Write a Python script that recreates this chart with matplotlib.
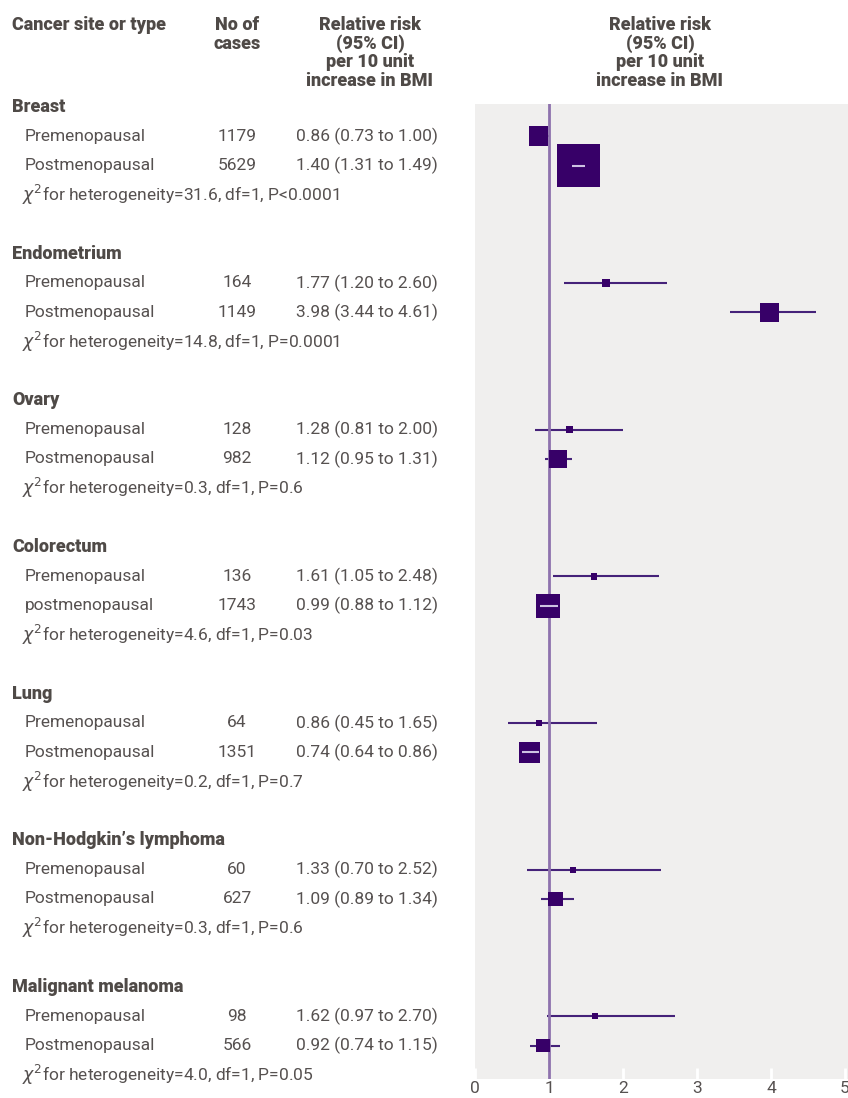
import matplotlib
matplotlib.use("Agg")
import matplotlib.pyplot as plt
from matplotlib.patches import Rectangle
from matplotlib.transforms import blended_transform_factory

# Data
sites = ["Breast", "Endometrium", "Ovary", "Colorectum", "Lung",
         "Non-Hodgkin\u2019s lymphoma", "Malignant melanoma"]
subgroups = [["Premenopausal", "Postmenopausal"],
             ["Premenopausal", "Postmenopausal"],
             ["Premenopausal", "Postmenopausal"],
             ["Premenopausal", "postmenopausal"],
             ["Premenopausal", "Postmenopausal"],
             ["Premenopausal", "Postmenopausal"],
             ["Premenopausal", "Postmenopausal"]]
cases = [[1179, 5629], [164, 1149], [128, 982], [136, 1743],
         [64, 1351], [60, 627], [98, 566]]
rr = [[0.86, 1.40], [1.77, 3.98], [1.28, 1.12], [1.61, 0.99],
      [0.86, 0.74], [1.33, 1.09], [1.62, 0.92]]
ci_lo = [[0.73, 1.31], [1.20, 3.44], [0.81, 0.95], [1.05, 0.88],
         [0.45, 0.64], [0.70, 0.89], [0.97, 0.74]]
ci_hi = [[1.00, 1.49], [2.60, 4.61], [2.00, 1.31], [2.48, 1.12],
         [1.65, 0.86], [2.52, 1.34], [2.70, 1.15]]
chi2 = ["31.6", "14.8", "0.3", "4.6", "0.2", "0.3", "4.0"]
pvals = ["P<0.0001", "P=0.0001", "P=0.6", "P=0.03", "P=0.7", "P=0.6", "P=0.05"]
xticks = [0, 1, 2, 3, 4, 5]

# Style
W, H = 848, 1098
text_col = "#565150"
head_col = "#4f4a47"
panel_col = "#f0efee"
square_col = "#370068"
ci_col = "#452279"
inner_col = "#cdc2e2"
ref_col = "#8e72ad"
plt.rcParams["font.family"] = ["Roboto", "DejaVu Sans"]
plt.rcParams["mathtext.fontset"] = "dejavusans"

fig = plt.figure(figsize=(W / 100, H / 100), dpi=100)
ax_left, ax_right, ax_top, ax_bot = 475, 848, 104, 1079
ax = fig.add_axes([ax_left / W, (H - ax_bot) / H,
                   (ax_right - ax_left) / W, (ax_bot - ax_top) / H])
ax.set_facecolor(panel_col)
px_per_x = 74.0
row_px = 29.33
first_row_y = 107
ax.set_xlim(0, (ax_right - ax_left) / px_per_x)
ax.set_ylim((ax_bot - first_row_y) / row_px, (ax_top - first_row_y) / row_px)
for s in ax.spines.values():
    s.set_visible(False)
ax.set_yticks([])
ax.set_xticks(xticks)
ax.set_xticklabels([str(t) for t in xticks])
ax.tick_params(axis="x", direction="in", length=8, width=2, color="white",
               labelsize=12.5, labelcolor=text_col, pad=1.5)

ax.axvline(1, color=ref_col, lw=2, zorder=2.5)

tr = blended_transform_factory(fig.transFigure, ax.transData)
body = dict(fontsize=12.5, color=text_col, va="center", transform=tr)

for g, site in enumerate(sites):
    r0 = 5 * g
    ax.text(12 / W, r0, site, fontsize=13, weight="black", color=head_col,
            va="center", transform=tr)
    for k in range(2):
        y = r0 + 1 + k
        ax.text(25 / W, y, subgroups[g][k], **body)
        ax.text(237 / W, y, str(cases[g][k]), ha="center", **body)
        ax.text(296 / W, y, f"{rr[g][k]:.2f} ({ci_lo[g][k]:.2f} to {ci_hi[g][k]:.2f})", **body)

        side = max(0.573 * cases[g][k] ** 0.5, 6)
        w = side / px_per_x
        h = side / row_px
        inside = ci_lo[g][k] >= rr[g][k] - w / 2 and ci_hi[g][k] <= rr[g][k] + w / 2
        if not inside:
            ax.plot([ci_lo[g][k], ci_hi[g][k]], [y, y], color=ci_col, lw=1.5,
                    solid_capstyle="butt", zorder=2)
        ax.add_patch(Rectangle((rr[g][k] - w / 2, y - h / 2), w, h,
                               color=square_col, lw=0, zorder=3))
        if inside:
            ax.plot([ci_lo[g][k], ci_hi[g][k]], [y, y], color=inner_col, lw=1.5,
                    solid_capstyle="butt", zorder=4)
    ax.text(22 / W, r0 + 3,
            r"$\chi^2$" + f"for heterogeneity={chi2[g]}, df=1, {pvals[g]}", **body)

# Column headers
hdr = dict(fontsize=13, weight="black", color=head_col, va="center")
line_gap = 18.7
fig.text(12 / W, 1 - 25 / H, "Cancer site or type", **hdr)
for i, line in enumerate(["No of", "cases"]):
    fig.text(237 / W, 1 - (25 + i * line_gap) / H, line, ha="center", **hdr)
rr_header = ["Relative risk", "(95% CI)", "per 10 unit", "increase in BMI"]
for i, line in enumerate(rr_header):
    fig.text(370 / W, 1 - (25 + i * line_gap) / H, line, ha="center", **hdr)
    fig.text(660 / W, 1 - (25 + i * line_gap) / H, line, ha="center", **hdr)

fig.savefig("out.png", dpi=100)
